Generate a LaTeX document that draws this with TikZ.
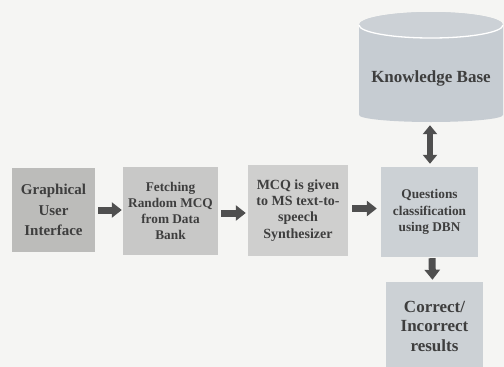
\documentclass[tikz,border=0pt]{standalone}
\usepackage{fontspec}
\setmainfont{Liberation Serif}
\usetikzlibrary{arrows.meta}

\definecolor{paper}{HTML}{F5F5F3}
\definecolor{boxgray}{HTML}{BCBCBA}
\definecolor{boxmid}{HTML}{C8C8C7}
\definecolor{boxlight}{HTML}{CFCFCE}
\definecolor{boxblue}{HTML}{CCD1D5}
\definecolor{cylblue}{HTML}{C6CCD2}
\definecolor{inkgray}{HTML}{3E3E3E}
\definecolor{arrowgray}{HTML}{4F4F4F}

\tikzset{
  procbox/.style={rectangle, draw=none, text=inkgray, align=center,
    inner sep=0pt, font=\bfseries},
  flowarrow/.style={draw=arrowgray, line width=7pt,
    -{Triangle[length=10pt, width=15pt]}},
  bothways/.style={draw=arrowgray, line width=6pt,
    {Triangle[length=9pt, width=14pt]}-{Triangle[length=9pt, width=14pt]}},
}

\begin{document}
\begin{tikzpicture}[x=1pt, y=-1pt]
  % page
  \fill[paper] (0,0) rectangle (504,367);
  \useasboundingbox (0,0) rectangle (504,367);

  % process boxes
  \node[procbox, fill=boxgray, minimum width=83pt, minimum height=84pt,
        font=\bfseries\fontsize{15}{20.5}\selectfont]
        (gui) at (53.5,210) {Graphical\\User\\Interface};
  \node[procbox, fill=boxmid, minimum width=95pt, minimum height=88pt,
        font=\bfseries\fontsize{13.3}{16}\selectfont]
        (fetch) at (170.5,211) {Fetching\\Random MCQ\\from Data\\Bank};
  \node[procbox, fill=boxlight, minimum width=100pt, minimum height=91pt,
        font=\bfseries\fontsize{14}{16.3}\selectfont]
        (tts) at (298,210.5) {MCQ is given\\to MS text-to-\\speech\\Synthesizer};
  \node[procbox, fill=boxblue, minimum width=97pt, minimum height=90pt,
        font=\bfseries\fontsize{13.3}{16.3}\selectfont]
        (dbn) at (429.5,212) {Questions\\classification\\using DBN};
  \node[procbox, fill=boxblue, minimum width=97pt, minimum height=88pt,
        font=\bfseries\fontsize{17}{19.5}\selectfont]
        (res) at (434.5,326) {Correct/\\Incorrect\\results};

  % knowledge base drum
  \fill[cylblue] (359,25) -- (359,115)
    arc[start angle=180, end angle=360, x radius=72pt, y radius=7pt]
    -- (503,25) arc[start angle=0, end angle=180, x radius=72pt, y radius=13pt]
    -- cycle;
  \fill[cylblue!90!white] (431,25) ellipse[x radius=72pt, y radius=13pt];
  \draw[white, line width=1.3pt]
    (359,25) arc[start angle=180, end angle=360, x radius=72pt, y radius=13pt];
  \node[procbox, minimum width=144pt, minimum height=88pt,
        font=\bfseries\fontsize{17}{20}\selectfont]
        (kb) at (431,78) {Knowledge Base};

  % connectors
  \draw[flowarrow] ([xshift=3pt]gui.east) -- ([xshift=-1pt]gui.east -| fetch.west);
  \draw[flowarrow] ([xshift=3pt, yshift=-2pt]fetch.east)
    -- ([xshift=-2pt, yshift=-2pt]fetch.east -| tts.west);
  \draw[flowarrow] ([xshift=4pt, yshift=2pt]tts.east)
    -- ([xshift=-4pt, yshift=2pt]tts.east -| dbn.west);
  \draw[flowarrow] ([xshift=2.5pt, yshift=-1pt]dbn.south)
    -- ([xshift=-2pt, yshift=2pt]res.north);
  \draw[bothways] ([xshift=-1pt, yshift=-3pt]kb.south)
    -- ([xshift=-1pt, yshift=3pt]kb.south |- dbn.north);
\end{tikzpicture}
\end{document}
